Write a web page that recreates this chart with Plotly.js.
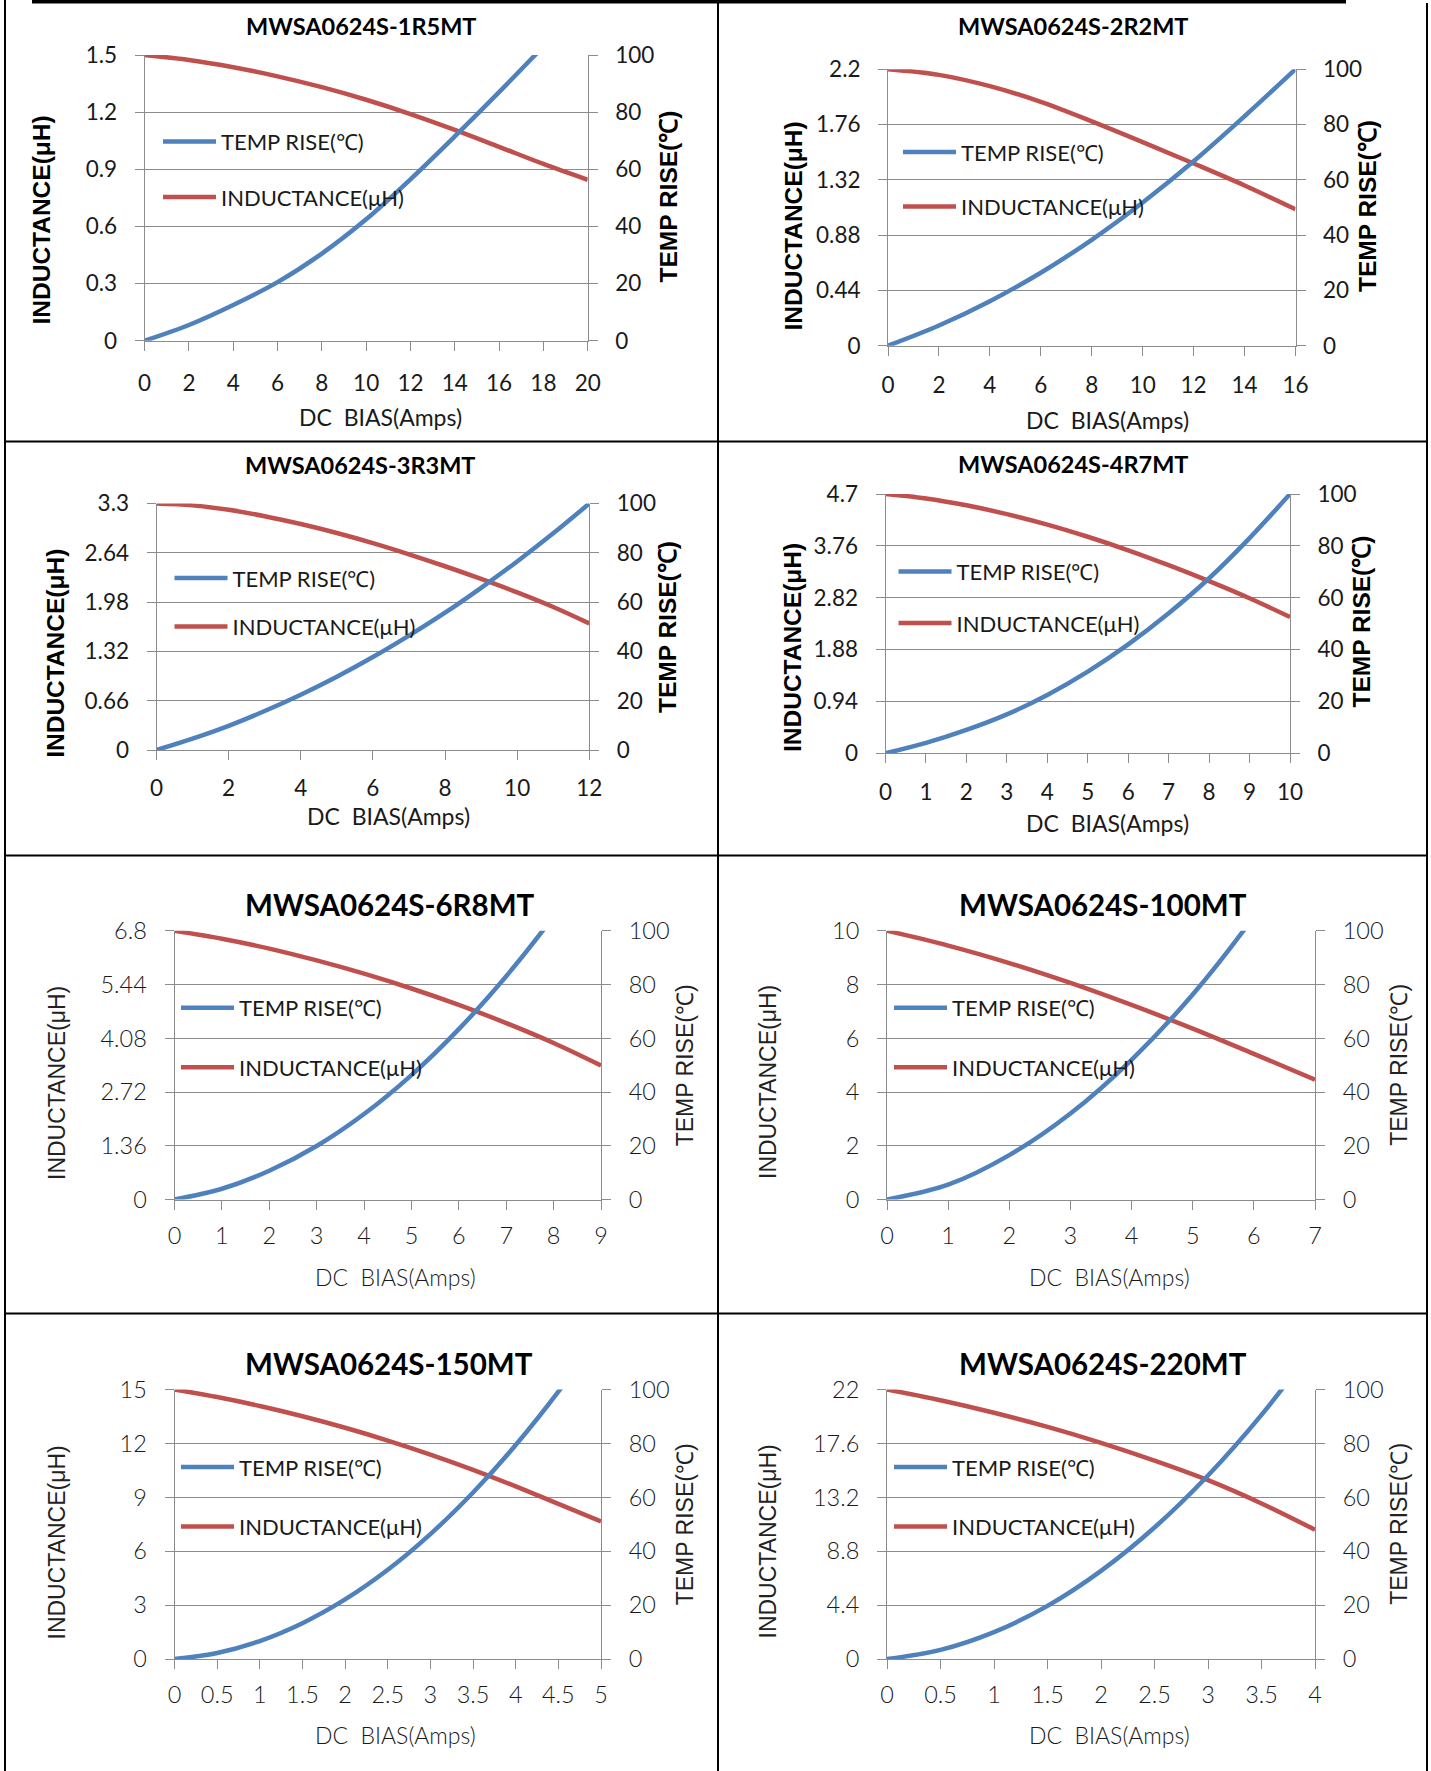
<!DOCTYPE html>
<html><head><meta charset="utf-8">
<script src="https://cdn.plot.ly/plotly-3.0.1.min.js"></script>
<style>html,body{margin:0;padding:0;background:#fff;}</style>
</head><body>
<div id="chart" style="width:1431px;height:1771px"></div>
<script>
// ---------------- DATA ----------------
const partNames = ['MWSA0624S-1R5MT','MWSA0624S-2R2MT','MWSA0624S-3R3MT','MWSA0624S-4R7MT',
                   'MWSA0624S-6R8MT','MWSA0624S-100MT','MWSA0624S-150MT','MWSA0624S-220MT'];
const seriesNames = ['TEMP RISE(℃)', 'INDUCTANCE(μH)'];
const xTitleText = 'DC\u00a0 BIAS(Amps)';
const yLeftTitleText = 'INDUCTANCE(μH)';
const yRightTitleText = 'TEMP RISE(℃)';
const tempTicks = [0,20,40,60,80,100];

const bias_1R5 = [0,2,4,6,8,10,12,14,16,18,20];
const temp_1R5 = [0,5.5,12.5,20.5,30.5,42.5,56.5,71.5,87,103,119];
const ind_1R5  = [1.5,1.474,1.436,1.388,1.331,1.265,1.19,1.107,1.018,0.928,0.845];
const indTicks_1R5 = [0,0.3,0.6,0.9,1.2,1.5];
const biasTicks_1R5 = [0,2,4,6,8,10,12,14,16,18,20];

const bias_2R2 = [0,2,4,6,8,10,12,14,16];
const temp_2R2 = [0,7.3,16.1,26.4,38.3,51.8,66.7,83,100];
const ind_2R2  = [2.2,2.155,2.065,1.94,1.785,1.62,1.45,1.275,1.085];
const indTicks_2R2 = [0,0.44,0.88,1.32,1.76,2.2];
const biasTicks_2R2 = [0,2,4,6,8,10,12,14,16];

const bias_3R3 = [0,1,2,3,4,5,6,7,8,9,10,11,12];
const temp_3R3 = [0,4.6,9.8,15.8,22.4,29.7,37.7,46.4,55.7,65.8,76.5,87.9,100];
const ind_3R3  = [3.3,3.275,3.215,3.13,3.025,2.905,2.77,2.62,2.46,2.29,2.11,1.915,1.695];
const indTicks_3R3 = [0,0.66,1.32,1.98,2.64,3.3];
const biasTicks_3R3 = [0,2,4,6,8,10,12];

const bias_4R7 = [0,1,2,3,4,5,6,7,8,9,10];
const temp_4R7 = [0,4,9,15,22.5,31.5,42,54,67.5,83,100];
const ind_4R7  = [4.7,4.62,4.495,4.335,4.145,3.925,3.68,3.41,3.12,2.81,2.47];
const indTicks_4R7 = [0,0.94,1.88,2.82,3.76,4.7];
const biasTicks_4R7 = [0,1,2,3,4,5,6,7,8,9,10];

const bias_6R8 = [0,1,2,3,4,5,6,7,8,9];
const temp_6R8 = [0,4.0,10.7,19.9,31.8,46.3,63.4,83.1,105.4,130.3];
const ind_6R8  = [6.8,6.6,6.35,6.05,5.715,5.34,4.925,4.465,3.96,3.39];
const indTicks_6R8 = [0,1.36,2.72,4.08,5.44,6.8];
const biasTicks_6R8 = [0,1,2,3,4,5,6,7,8,9];

const bias_100 = [0,1,2,3,4,5,6,7];
const temp_100 = [0,5.5,16.5,32,52,76.3,105.3,138.8];
const ind_100  = [10,9.45,8.8,8.06,7.24,6.36,5.42,4.46];
const indTicks_100 = [0,2,4,6,8,10];
const biasTicks_100 = [0,1,2,3,4,5,6,7];

const bias_150 = [0,0.5,1,1.5,2,2.5,3,3.5,4,4.5,5];
const temp_150 = [0,2.24,6.67,13.3,22.1,33.1,46.35,61.8,79.4,99.2,121.1];
const ind_150  = [15,14.58,14.08,13.51,12.87,12.16,11.38,10.53,9.61,8.63,7.66];
const indTicks_150 = [0,3,6,9,12,15];
const biasTicks_150 = [0,0.5,1,1.5,2,2.5,3,3.5,4,4.5,5];

const bias_220 = [0,0.5,1,1.5,2,2.5,3,3.5,4];
const temp_220 = [0,3.4,10.0,19.7,32.7,48.8,68.1,90.6,116.3];
const ind_220  = [22,21.12,20.1,18.95,17.65,16.2,14.6,12.7,10.55];
const indTicks_220 = [0,4.4,8.8,13.2,17.6,22];
const biasTicks_220 = [0,0.5,1,1.5,2,2.5,3,3.5,4];

const seriesData = [
  [bias_1R5, temp_1R5, ind_1R5, indTicks_1R5, biasTicks_1R5],
  [bias_2R2, temp_2R2, ind_2R2, indTicks_2R2, biasTicks_2R2],
  [bias_3R3, temp_3R3, ind_3R3, indTicks_3R3, biasTicks_3R3],
  [bias_4R7, temp_4R7, ind_4R7, indTicks_4R7, biasTicks_4R7],
  [bias_6R8, temp_6R8, ind_6R8, indTicks_6R8, biasTicks_6R8],
  [bias_100, temp_100, ind_100, indTicks_100, biasTicks_100],
  [bias_150, temp_150, ind_150, indTicks_150, biasTicks_150],
  [bias_220, temp_220, ind_220, indTicks_220, biasTicks_220]
];

// ---------------- LAYOUT (pixel geometry) ----------------
const W = 1431, H = 1771;
const PX = v => v / W;
const PY = v => 1 - v / H;
const geom = [
 {box:[144.6,587.7,55,340.7],    title:[360.5,25.5,23.5], xT:[381,416.7],    yL:[40.5,220],    yR:[667.5,197],    leg:[163,142.7,196.7],  xStand:13, bold:true},
 {box:[888,1295.5,69.2,345.7],   title:[1073,26,23.5],    xT:[1107,420],     yL:[792.5,226],   yR:[1367,206],     leg:[903,153.3,206],    xStand:10, bold:true},
 {box:[156.5,589.3,503.5,750],   title:[360,465,23.5],    xT:[388,816],      yL:[54.8,653],    yR:[667,627],      leg:[174.5,579.3,626],  xStand:9,  bold:true},
 {box:[885.5,1290,494,753.3],    title:[1073,464,23.5],   xT:[1107,823.3],   yL:[792,648],     yR:[1360.5,622],   leg:[898.5,572.7,622.7],xStand:10, bold:true},
 {box:[174.5,601,930.8,1199.5],  title:[389.8,904,29.5],  xT:[395,1276.7],   yL:[56.5,1082.5], yR:[685,1065.3],   leg:[181,1009,1066.7],  xStand:6,  bold:false},
 {box:[887,1315,930.8,1199.5],   title:[1102.6,904,29.5], xT:[1109.5,1276.7],yL:[767.5,1082.5],yR:[1399.5,1065.3],leg:[894,1009,1066.7],  xStand:6,  bold:false},
 {box:[174.5,601,1389.5,1659],   title:[389,1363.3,29.5], xT:[395,1735],     yL:[56.5,1542],   yR:[685,1524.3],   leg:[181,1468.3,1526],  xStand:6,  bold:false},
 {box:[887,1315,1389.5,1659],    title:[1102.6,1363.3,29.5],xT:[1109.5,1735],yL:[767.5,1542],  yR:[1399.5,1524.3],leg:[894,1468.3,1526],  xStand:6,  bold:false}
];

const FONT_MAIN = 'Lato, "Open Sans", sans-serif';
const FONT_AX = '"Liberation Sans", Arial, sans-serif';
const BLUE = '#4F81BD', RED = '#C0504D', GRID = '#8C8C8C', TXT = '#1a1a1a';
const TICKLEN = 9, LEGFONT = 22;

const data = [];
const layout = {
  width: W, height: H,
  margin: {l:0, r:0, t:0, b:0, pad:0},
  paper_bgcolor: '#ffffff', plot_bgcolor: 'rgba(0,0,0,0)',
  showlegend: true,
  annotations: [], shapes: []
};

geom.forEach((g, k) => {
  const i = k + 1;
  const [bias, temp, ind, indTicks, biasTicks] = seriesData[k];
  const xId = i === 1 ? 'x' : 'x' + i;
  const yLId = (2*i-1) === 1 ? 'y' : 'y' + (2*i-1);
  const yRId = 'y' + (2*i);
  const xKey = i === 1 ? 'xaxis' : 'xaxis' + i;
  const yLKey = (2*i-1) === 1 ? 'yaxis' : 'yaxis' + (2*i-1);
  const yRKey = 'yaxis' + (2*i);
  const legKey = i === 1 ? 'legend' : 'legend' + i;
  const [L, R, T, B] = g.box;
  const xDom = [PX(L), PX(R)];
  const yDom = [PY(B), PY(T)];
  const weight = g.bold ? 400 : 300;

  data.push({
    type:'scatter', mode:'lines', x: bias, y: ind, xaxis: xId, yaxis: yLId,
    name: seriesNames[1], legend: legKey, legendgroup: 'ind' + i, legendrank: 2,
    line: {color: RED, width: 4.5, shape: 'spline', smoothing: 1}, hoverinfo: 'skip'
  });
  data.push({
    type:'scatter', mode:'lines', x: bias, y: temp, xaxis: xId, yaxis: yRId,
    name: seriesNames[0], legend: legKey, legendgroup: 'tmp' + i, legendrank: 1,
    line: {color: BLUE, width: 4.5, shape: 'spline', smoothing: 1}, hoverinfo: 'skip'
  });

  const tickFont = {family: FONT_MAIN, size: g.bold ? 22.5 : 23.5, color: TXT, weight: weight};
  layout[xKey] = {
    domain: xDom, anchor: yLId, range: [bias[0], bias[bias.length-1]],
    tickvals: biasTicks, ticktext: biasTicks.map(String),
    showline: true, linecolor: GRID, linewidth: 1, mirror: false,
    ticks: 'outside', ticklen: TICKLEN, tickcolor: GRID, tickwidth: 1,
    showgrid: false, zeroline: false, tickfont: tickFont,
    ticklabelstandoff: g.xStand, fixedrange: true
  };
  layout[yLKey] = {
    domain: yDom, anchor: xId, range: [0, indTicks[indTicks.length-1]],
    tickvals: indTicks, ticktext: indTicks.map(String),
    showline: true, linecolor: GRID, linewidth: 1,
    ticks: 'outside', ticklen: TICKLEN, tickcolor: GRID, tickwidth: 1,
    showgrid: true, gridcolor: GRID, gridwidth: 1, zeroline: false,
    tickfont: tickFont, ticklabelstandoff: 13, fixedrange: true
  };
  layout[yRKey] = {
    overlaying: yLId, side: 'right', anchor: xId, range: [0, 100],
    tickvals: tempTicks, ticktext: tempTicks.map(String),
    showline: true, linecolor: GRID, linewidth: 1,
    ticks: 'outside', ticklen: TICKLEN, tickcolor: GRID, tickwidth: 1,
    showgrid: false, zeroline: false,
    tickfont: tickFont, ticklabelstandoff: 13, fixedrange: true
  };
  const [lx, ly1, ly2] = g.leg;
  layout[legKey] = {
    x: PX(lx - 5), y: PY((ly1 + ly2) / 2), xanchor: 'left', yanchor: 'middle',
    xref: 'paper', yref: 'paper',
    bgcolor: 'rgba(0,0,0,0)', borderwidth: 0,
    font: {family: FONT_MAIN, size: LEGFONT, color: TXT},
    itemwidth: 53, traceorder: 'grouped', tracegroupgap: Math.round(Math.max(0, (ly2 - ly1) - 30)),
    itemclick: false, itemdoubleclick: false
  };

  // subplot title
  layout.annotations.push({
    xref:'paper', yref:'paper', x: PX(g.title[0]), y: PY(g.title[1]),
    xanchor:'center', yanchor:'middle', showarrow:false,
    text: '<b>' + partNames[k] + '</b>',
    font: {family: FONT_MAIN, size: g.title[2], color: '#000'}
  });
  // x title
  layout.annotations.push({
    xref:'paper', yref:'paper', x: PX(g.xT[0]), y: PY(g.xT[1]),
    xanchor:'center', yanchor:'middle', showarrow:false,
    text: xTitleText, font: {family: FONT_MAIN, size: 23, color: TXT, weight: weight}
  });
  // y titles
  const yFont = {family: FONT_AX, size: g.bold ? 24.5 : 23, color: g.bold ? '#000' : '#222'};
  layout.annotations.push({
    xref:'paper', yref:'paper', x: PX(g.yL[0]), y: PY(g.yL[1]),
    xanchor:'center', yanchor:'middle', showarrow:false, textangle: -90,
    text: g.bold ? '<b>' + yLeftTitleText + '</b>' : yLeftTitleText, font: yFont
  });
  layout.annotations.push({
    xref:'paper', yref:'paper', x: PX(g.yR[0]), y: PY(g.yR[1]),
    xanchor:'center', yanchor:'middle', showarrow:false, textangle: -90,
    text: g.bold ? '<b>' + yRightTitleText + '</b>' : yRightTitleText, font: yFont
  });
});

// table borders
const lineShape = (x0, y0, x1, y1, w) => ({type:'line', xref:'paper', yref:'paper',
  x0: PX(x0), y0: PY(y0), x1: PX(x1), y1: PY(y1), line:{color:'#000', width:w}});
layout.shapes.push({type:'rect', xref:'paper', yref:'paper', x0:PX(32), x1:PX(1346), y0:PY(0), y1:PY(3.5),
  fillcolor:'#000', line:{width:0}});
layout.shapes.push(lineShape(5, 0, 5, H, 2));
layout.shapes.push(lineShape(1427, 3, 1427, H, 2));
layout.shapes.push(lineShape(718, 3, 718, H, 2));
layout.shapes.push(lineShape(5, 441.5, 1427, 441.5, 2));
layout.shapes.push(lineShape(5, 855.5, 1427, 855.5, 2));
layout.shapes.push(lineShape(5, 1313.5, 1427, 1313.5, 2));

Plotly.newPlot('chart', data, layout, {displayModeBar:false, staticPlot:true});
</script>
</body></html>
